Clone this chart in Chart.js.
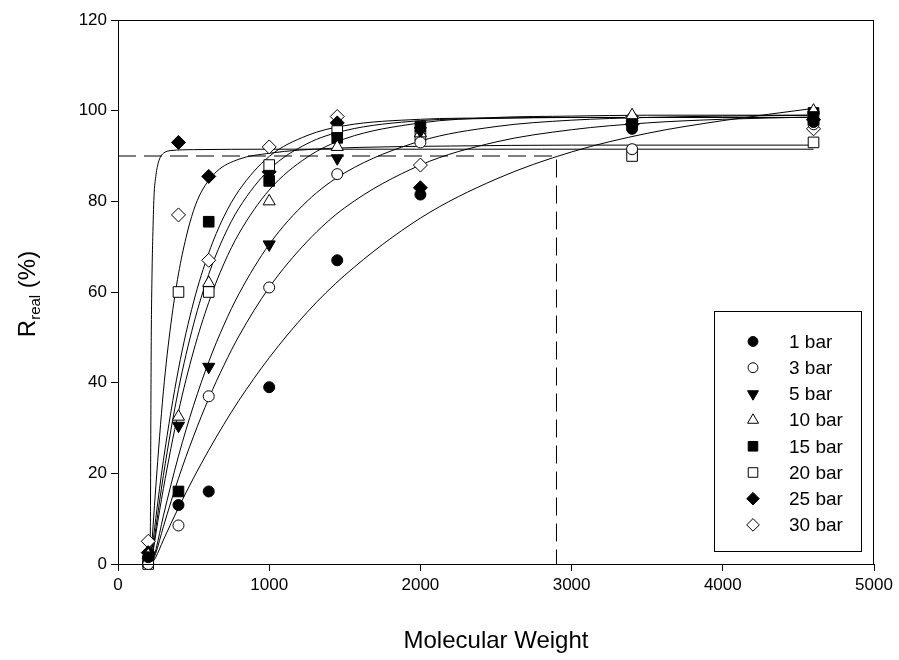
<!DOCTYPE html>
<html lang="en">
<head>
<meta charset="UTF-8">
<title>Rreal vs Molecular Weight</title>
<script src="https://cdn.jsdelivr.net/npm/chart.js"></script>
<style>
    body { margin: 0; background: #fff; }
    #wrap { width: 899px; height: 660px; }
</style>
</head>
<body>
<div id="wrap"><canvas id="chart" width="899" height="660"></canvas></div>
<script>
    // measured points (molecular weight vs rejection %)
    const mw = [200, 400, 600, 1000, 1450, 2000, 3400, 4600];
    const r1 = [1.5, 13, 16, 39, 67, 81.5, 96, 97.5];
    const r3 = [0, 8.5, 37, 61, 86, 93, 91.5, 97];
    const r5 = [1, 30.5, 43.5, 70.5, 89.5, 95.5, 97, 99];
    const r10 = [2, 32.5, 62, 80, 92, 95, 99, 100];
    const r15 = [0.5, 16, 75.5, 84.5, 94, 96.5, 97.5, 99.5];
    const r20 = [0, 60, 60, 88, 95.5, 94.5, 90, 93];
    const r25 = [2.5, 93, 85.5, 86.5, 97.3, 83, 97, 98];
    const r30 = [5, 77, 67, 92, 98.7, 88, 98.5, 96];
    const labels = ['1 bar', '3 bar', '5 bar', '10 bar', '15 bar', '20 bar', '25 bar', '30 bar'];

    // fitted curves
    const fitX = [220, 250, 300, 400, 500, 600, 700, 800, 1000, 1250, 1500, 2000, 2500, 3000, 3500, 4000, 4600];
    const fit1 = [0, 1.5, 5.3, 12.4, 19.0, 25.1, 30.8, 36.1, 45.5, 55.5, 63.7, 76.3, 84.9, 90.9, 95.0, 97.8, 100.5];
    const fit3 = [0, 2.4, 8.2, 18.9, 28.2, 36.5, 43.8, 50.3, 61.0, 71.1, 78.6, 88.0, 93.1, 95.8, 97.3, 98.1, 98.6];
    const fit5 = [0, 3.1, 10.6, 23.8, 35.0, 44.6, 52.7, 59.6, 70.5, 80.0, 86.3, 93.3, 96.5, 97.9, 98.5, 98.8, 99.0];
    const fit10 = [0, 6.6, 16.6, 33.6, 47.0, 57.7, 66.2, 72.9, 82.5, 89.7, 93.8, 97.3, 98.5, 98.8, 99.0, 99.0, 99.0];
    const fit15 = [0, 7.8, 19.5, 38.5, 52.9, 63.9, 72.2, 78.5, 87.0, 92.7, 95.6, 97.8, 98.3, 98.5, 98.5, 98.5, 98.5];
    const fit30 = [1.5, 10.1, 22.8, 43.0, 57.8, 68.6, 76.6, 82.4, 89.9, 94.5, 96.7, 98.1, 98.4, 98.5, 98.5, 98.5, 98.5];
    const fit20X = [215, 250, 300, 350, 400, 450, 500, 550, 650, 800, 1000, 1200, 1600, 2200, 3000, 4600];
    const fit20 = [0, 17, 38, 53, 64, 72, 78, 82, 86.5, 89.3, 90.6, 91.3, 91.9, 92.2, 92.4, 92.4];
    const fit25X = [208, 214, 217, 220, 225, 230, 238, 250, 265, 278, 300, 350, 500, 1000, 4600];
    const fit25 = [0, 7.5, 30, 50, 64, 72, 81, 85.5, 88.3, 89.6, 90.6, 91.2, 91.4, 91.5, 91.5];

    // 90% cut-off guide
    const cutX = [0, 2900, 2900];
    const cutY = [90, 90, 0];

    const FONT = '"Liberation Sans", Arial, sans-serif';

    const markers = [
        { style: 'circle', rot: 0, fill: true, r: 5.5 },
        { style: 'circle', rot: 0, fill: false, r: 5.5 },
        { style: 'triangle', rot: 180, fill: true, r: 7 },
        { style: 'triangle', rot: 0, fill: false, r: 7 },
        { style: 'rect', rot: 0, fill: true, r: 7.5 },
        { style: 'rect', rot: 0, fill: false, r: 7.5 },
        { style: 'rectRot', rot: 0, fill: true, r: 7 },
        { style: 'rectRot', rot: 0, fill: false, r: 7 }
    ];
    const pointSeries = [r1, r3, r5, r10, r15, r20, r25, r30];

    function xy(xs, ys) {
        return xs.map((x, i) => ({ x: x, y: ys[i] }));
    }

    const datasets = [];
    pointSeries.forEach((ys, i) => {
        const m = markers[i];
        datasets.push({
            label: labels[i],
            data: xy(mw, ys),
            showLine: false,
            pointStyle: m.style,
            rotation: m.rot,
            pointRadius: m.r,
            pointBackgroundColor: m.fill ? '#000' : '#fff',
            pointBorderColor: '#000',
            pointBorderWidth: 1,
            clip: false,
            order: 0
        });
    });

    const curves = [
        xy(fitX, fit1), xy(fitX, fit3), xy(fitX, fit5), xy(fitX, fit10),
        xy(fitX, fit15), xy(fit20X, fit20), xy(fit25X, fit25), xy(fitX, fit30)
    ];
    curves.forEach(data => {
        datasets.push({
            data: data,
            showLine: true,
            pointRadius: 0,
            borderColor: '#000',
            borderWidth: 1,
            cubicInterpolationMode: 'monotone',
            order: 5
        });
    });

    datasets.push({
        data: xy(cutX, cutY),
        showLine: true,
        pointRadius: 0,
        borderColor: '#000',
        borderWidth: 1,
        borderDash: [18, 8],
        tension: 0,
        order: 6
    });

    // frame, axis titles and the boxed legend
    const decor = {
        id: 'decor',
        afterDraw(chart) {
            const ctx = chart.ctx;
            const a = chart.chartArea;
            ctx.save();
            ctx.strokeStyle = '#000';
            ctx.lineWidth = 1;
            ctx.strokeRect(Math.round(a.left) + 0.5, Math.round(a.top) + 0.5,
                Math.round(a.right - a.left) - 1, Math.round(a.bottom - a.top));

            // x title
            ctx.fillStyle = '#000';
            ctx.font = '24px ' + FONT;
            ctx.textAlign = 'center';
            ctx.textBaseline = 'alphabetic';
            ctx.fillText('Molecular Weight', (a.left + a.right) / 2, 648);

            // y title with subscript
            ctx.save();
            ctx.translate(27, 294);
            ctx.rotate(-Math.PI / 2);
            ctx.textAlign = 'left';
            const big = '24px ' + FONT, small = '15px ' + FONT;
            ctx.font = big;
            const wR = ctx.measureText('R').width;
            const wP = ctx.measureText(' (%)').width;
            ctx.font = small;
            const wS = ctx.measureText('real').width;
            let x = -(wR + wS + wP) / 2;
            ctx.font = big;
            ctx.fillText('R', x, 8);
            x += wR;
            ctx.font = small;
            ctx.fillText('real', x, 13);
            x += wS;
            ctx.font = big;
            ctx.fillText(' (%)', x, 8);
            ctx.restore();

            // legend
            ctx.strokeRect(714.5, 311.5, 147, 240);
            ctx.font = '19px ' + FONT;
            ctx.textAlign = 'left';
            ctx.textBaseline = 'middle';
            labels.forEach((lab, i) => {
                const m = markers[i];
                const y = 341.5 + i * 26.2;
                ctx.fillStyle = m.fill ? '#000' : '#fff';
                ctx.strokeStyle = '#000';
                ctx.lineWidth = 1;
                Chart.helpers.drawPoint(ctx, {
                    pointStyle: m.style, rotation: m.rot, radius: m.r * 0.9, borderWidth: 1
                }, 753, y);
                ctx.fillStyle = '#000';
                ctx.fillText(lab, 789, y + 1);
            });
            ctx.restore();
        }
    };

    new Chart(document.getElementById('chart'), {
        type: 'scatter',
        data: { datasets: datasets },
        options: {
            responsive: false,
            animation: false,
            events: [],
            layout: { padding: { left: 0, top: 20, right: 25, bottom: 0 } },
            plugins: { legend: { display: false }, tooltip: { enabled: false } },
            scales: {
                x: {
                    type: 'linear',
                    min: 0,
                    max: 5000,
                    ticks: {
                        stepSize: 1000, color: '#000', font: { family: FONT, size: 17 }, padding: 4, maxRotation: 0,
                        callback: v => String(v)
                    },
                    grid: { drawOnChartArea: false, tickLength: 7, color: '#000' },
                    border: { color: '#000', width: 1 },
                    afterFit(scale) { scale.height = 96; }
                },
                y: {
                    min: 0,
                    max: 120,
                    ticks: { stepSize: 20, color: '#000', font: { family: FONT, size: 17 }, padding: 4 },
                    grid: { drawOnChartArea: false, tickLength: 7, color: '#000' },
                    border: { color: '#000', width: 1 },
                    afterFit(scale) { scale.width = 118; }
                }
            }
        },
        plugins: [decor]
    });
</script>
</body>
</html>
